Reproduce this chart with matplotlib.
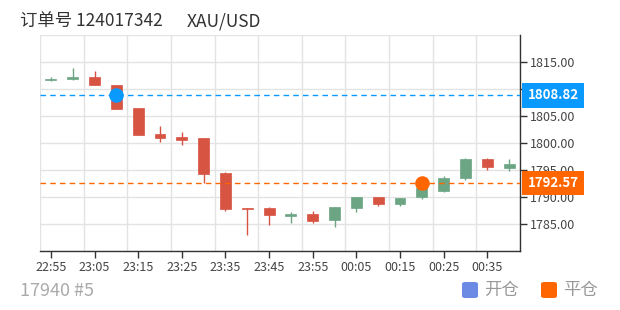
# -*- coding: utf-8 -*-
"""K线图：订单开仓/平仓位置标注"""
import matplotlib
matplotlib.use("Agg")
import matplotlib.pyplot as plt
import matplotlib.transforms as mtransforms
from matplotlib.patches import FancyBboxPatch

plt.rcParams["font.family"] = ["Noto Sans CJK SC", "DejaVu Sans"]

times = ["22:55", "23:00", "23:05", "23:10", "23:15", "23:20", "23:25", "23:30",
         "23:35", "23:40", "23:45", "23:50", "23:55", "00:00", "00:05", "00:10",
         "00:15", "00:20", "00:25", "00:30", "00:35", "00:40"]
opens = [1811.6, 1811.9, 1812.3, 1810.8, 1806.5, 1801.7, 1801.1, 1800.9,
         1794.4, 1788.0, 1788.0, 1786.5, 1786.9, 1785.7, 1788.0, 1790.0,
         1788.7, 1790.0, 1791.2, 1793.6, 1797.0, 1795.4]
closes = [1811.9, 1812.2, 1810.7, 1806.3, 1801.4, 1800.9, 1800.6, 1794.2,
          1787.8, 1787.8, 1786.6, 1786.9, 1785.6, 1788.1, 1790.0, 1788.7,
          1789.9, 1791.6, 1793.5, 1797.0, 1795.5, 1796.1]
highs = [1812.2, 1813.9, 1813.4, 1810.8, 1806.5, 1803.2, 1802.0, 1800.9,
         1794.6, 1788.0, 1788.2, 1787.2, 1787.4, 1788.1, 1790.0, 1790.0,
         1789.9, 1791.8, 1793.8, 1797.3, 1797.3, 1797.1]
lows = [1811.5, 1811.7, 1810.7, 1806.3, 1801.4, 1800.1, 1799.7, 1792.6,
        1787.5, 1782.9, 1784.9, 1785.2, 1785.1, 1784.5, 1787.3, 1788.4,
        1788.4, 1789.6, 1791.0, 1793.1, 1795.0, 1794.9]
price_ticks = [1785, 1790, 1795, 1800, 1805, 1810, 1815]

open_idx, open_price = 3, 1808.82
close_idx, close_price = 17, 1792.57

UP, DOWN = "#6ba583", "#d75442"
BLUE, ORANGE = "#0a99ff", "#ff6600"
GRID = "#e3e3e3"

fig = plt.figure(figsize=(6.2, 3.1), dpi=100)
ax = fig.add_axes([40 / 620, 59 / 310, 480 / 620, 216 / 310])

for i in range(len(times)):
    o, c = opens[i], closes[i]
    col = UP if c >= o else DOWN
    ax.vlines(i, lows[i], highs[i], color=col, lw=1, zorder=3)
    ax.bar(i, max(abs(c - o), 0.15), bottom=min(o, c), width=0.5,
           color=col, edgecolor=col, lw=0.5, zorder=3)

# 开仓 / 平仓 价格线
ax.axhline(open_price, color=BLUE, lw=1, dashes=(4, 3), zorder=4)
ax.axhline(close_price, color=ORANGE, lw=1, dashes=(4, 3), zorder=4)
ax.scatter([open_idx], [open_price], s=110, color=BLUE, zorder=5, lw=0)
ax.scatter([close_idx], [close_price], s=110, color=ORANGE, zorder=5, lw=0)

trans = mtransforms.blended_transform_factory(ax.transAxes, ax.transData)
for price, col in [(open_price, BLUE), (close_price, ORANGE)]:
    ax.text(1.0155, price, "%.2f" % price, transform=trans, ha="left", va="center",
            color="white", fontsize=9.5, fontweight="bold", zorder=10, clip_on=False,
            bbox=dict(boxstyle="square,pad=0.4", fc=col, ec="none"))

ax.set_xlim(-0.5, len(times) - 0.5)
ax.set_ylim(1780, 1820)

ax.set_xticks(range(0, len(times), 2))
ax.set_xticklabels(times[::2])
ax.set_xticks([x - 0.5 for x in range(0, len(times) + 1, 2)], minor=True)
ax.set_yticks(price_ticks)
ax.set_yticklabels(["%.2f" % v for v in price_ticks])
ax.set_yticks([1780, 1820], minor=True)
ax.yaxis.tick_right()

ax.grid(True, which="major", axis="y", color=GRID, lw=1)
ax.grid(True, which="minor", color=GRID, lw=1)
ax.set_axisbelow(True)
ax.tick_params(which="minor", length=0)
ax.tick_params(which="major", length=5, width=1, color="#333333",
               labelcolor="#444444", labelsize=9, pad=2)
ax.tick_params(axis="x", pad=2)

for side in ["left", "top"]:
    ax.spines[side].set_visible(False)
for side in ["right", "bottom"]:
    ax.spines[side].set_color("#333333")
    ax.spines[side].set_linewidth(1)

fig.text(20 / 620, 1 - 21 / 310, "订单号 124017342", fontsize=12.5,
         color="#333333", va="center")
fig.text(187 / 620, 1 - 21 / 310, "XAU/USD", fontsize=12.5,
         color="#333333", va="center")
fig.text(20 / 620, 1 - 291 / 310, "17940 #5", fontsize=13,
         color="#aaaaaa", va="center")

# 图例
for x0, col, label in [(462, "#6c8ae4", "开仓"), (541, ORANGE, "平仓")]:
    fig.patches.append(FancyBboxPatch((x0 / 620, (310 - 298) / 310),
                                      16 / 620, 16 / 310,
                                      boxstyle="round,pad=0,rounding_size=0.006",
                                      transform=fig.transFigure, fc=col, ec="none"))
    fig.text((x0 + 22) / 620, 1 - 290 / 310, label, fontsize=12.5,
             color="#999999", va="center")

fig.savefig("out.png", dpi=100)
